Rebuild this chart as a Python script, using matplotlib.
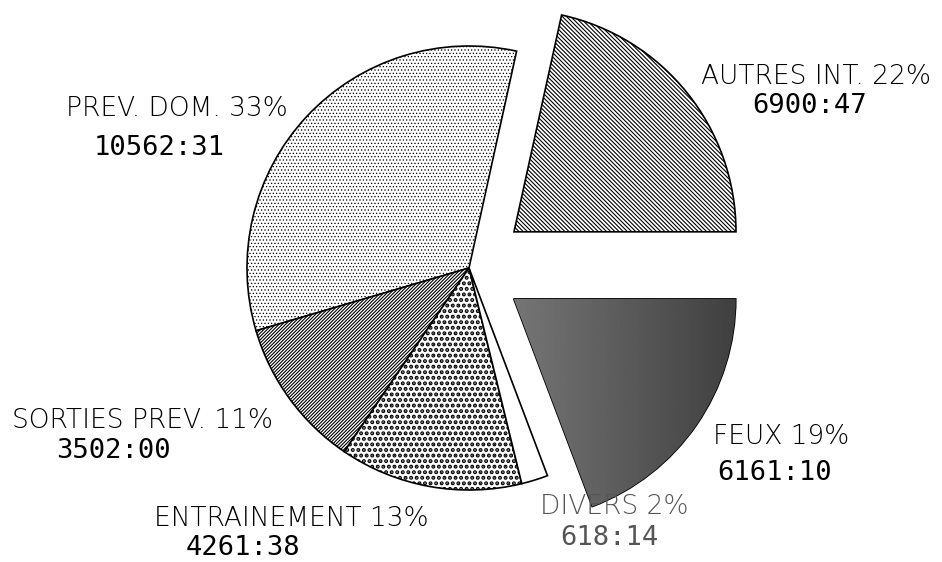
import matplotlib
matplotlib.use('Agg')
import matplotlib.pyplot as plt
import numpy as np

# donnees (heures:minutes)
categories = ['AUTRES INT.', 'PREV. DOM.', 'SORTIES PREV.', 'ENTRAINEMENT', 'DIVERS', 'FEUX']
durees = ['6900:47', '10562:31', '3502:00', '4261:38', '618:14', '6161:10']
pourcentages = [22, 33, 11, 13, 2, 19]
eclatement = [0.26, 0, 0, 0, 0, 0.245]

heures = [int(d.split(':')[0]) + int(d.split(':')[1]) / 60 for d in durees]

W, H = 942, 562
rayon = 222
fig = plt.figure(figsize=(W / 100, H / 100), dpi=100)
ax = fig.add_axes([0, 0, 1, 1])

# explode de matplotlib est en unites absolues -> fraction * rayon
wedges, _ = ax.pie(heures, startangle=0, counterclock=True,
                   explode=[e * rayon for e in eclatement],
                   center=(469, H - 268), radius=rayon, frame=True,
                   wedgeprops={'edgecolor': 'black', 'linewidth': 1.2})
ax.set_xlim(0, W)
ax.set_ylim(0, H)
ax.set_aspect('equal')
ax.axis('off')

# motifs des secteurs
styles = [
    ('white', '\\' * 8, 0.8),
    ('white', '.....', 0.5),
    ('white', '/' * 10, 0.8),
    ('white', '...', 2.0),
    ('white', None, 1.0),
    ('#5e5e5e', None, 1.0),
]
for w, (fc, hatch, hlw) in zip(wedges, styles):
    w.set_facecolor(fc)
    if hatch:
        w.set_hatch(hatch)
        if hasattr(w, 'set_hatch_linewidth'):
            w.set_hatch_linewidth(hlw)
        else:
            w._hatch_linewidth = hlw

# FEUX : degrade de gris (plus sombre a droite)
feux = wedges[5]
cx, cy = feux.center
degrade = np.linspace(0.46, 0.25, 256)[None, :]
img = ax.imshow(degrade, cmap='gray', vmin=0, vmax=1, aspect='auto',
                extent=[cx, cx + feux.r, cy - feux.r, cy], zorder=feux.get_zorder() + 0.1)
img.set_clip_path(feux)
ax.set_xlim(0, W)
ax.set_ylim(0, H)

# etiquettes (position en pixels, origine en haut)
pos_labels = [(816, 77), (177, 108), (142, 421), (291, 518), (614, 506), (781, 437)]
pos_valeurs = [(810, 106), (159, 148), (113, 451), (243, 548), (609, 538), (775, 473)]
couleurs = ['black', 'black', 'black', 'black', '#555555', 'black']

for nom, pct, duree, (lx, ly), (vx, vy), c in zip(categories, pourcentages, durees,
                                                  pos_labels, pos_valeurs, couleurs):
    ax.text(lx, H - ly, f'{nom} {pct}%', ha='center', va='center',
            fontsize=19, family='DejaVu Sans', weight='light', color=c, zorder=5)
    ax.text(vx, H - vy, duree, ha='center', va='center',
            fontsize=19.5, family='DejaVu Sans Mono', color=c, zorder=5)

fig.savefig('out.png', dpi=100, facecolor='white')
